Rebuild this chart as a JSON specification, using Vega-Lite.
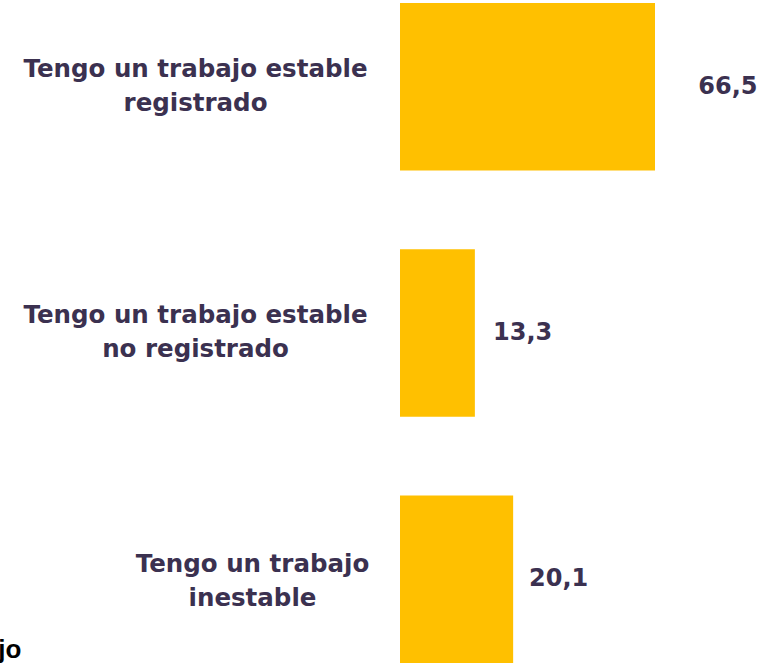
{
  "$schema": "https://vega.github.io/schema/vega-lite/v6.json",
  "autosize": "none",
  "padding": {"left": 400, "top": 3, "right": 108, "bottom": 0},
  "width": 255,
  "height": 660,
  "background": "white",
  "config": {
    "view": {"stroke": null},
    "locale": {"number": {"decimal": ",", "thousands": ".", "grouping": [3], "currency": ["", " €"]}}
  },
  "title": {
    "text": "Trabajo",
    "orient": "bottom",
    "anchor": "start",
    "frame": "group",
    "font": "Liberation Sans",
    "fontSize": 26,
    "fontWeight": "bold",
    "color": "#000000",
    "dx": -471,
    "dy": -30
  },
  "data": {
    "values": [
      {"categoria": "Tengo un trabajo estable registrado", "valor": 66.5},
      {"categoria": "Tengo un trabajo estable no registrado", "valor": 13.3},
      {"categoria": "Tengo un trabajo inestable", "valor": 20.1}
    ]
  },
  "encoding": {
    "y": {
      "field": "categoria",
      "type": "nominal",
      "sort": null,
      "scale": {"paddingInner": 0.32, "paddingOuter": 0},
      "axis": {
        "title": null,
        "domain": false,
        "ticks": false,
        "labelPadding": {"condition": {"test": "datum.value == 'Tengo un trabajo inestable'", "value": 148}, "value": 205},
        "labelOffset": {"condition": {"test": "datum.value == 'Tengo un trabajo inestable'", "value": -14}, "value": -17},
        "labelFont": "DejaVu Sans",
        "labelFontSize": 24.5,
        "labelFontWeight": "bold",
        "labelColor": "#3B3150",
        "labelAlign": "center",
        "labelLineHeight": 34,
        "labelLimit": 500,
        "labelExpr": "datum.value == 'Tengo un trabajo estable registrado' ? ['Tengo un trabajo estable', 'registrado'] : datum.value == 'Tengo un trabajo estable no registrado' ? ['Tengo un trabajo estable', 'no registrado'] : ['Tengo un trabajo', 'inestable']"
      }
    }
  },
  "layer": [
    {
      "mark": {"type": "bar", "color": "#FFC000"},
      "encoding": {
        "x": {
          "field": "valor",
          "type": "quantitative",
          "scale": {"domain": [0, 45.3], "clamp": true, "nice": false},
          "axis": null
        }
      }
    },
    {
      "mark": {
        "type": "text",
        "align": "left",
        "baseline": "middle",
        "font": "DejaVu Sans",
        "fontSize": 24,
        "fontWeight": "bold",
        "color": "#3B3150"
      },
      "encoding": {
        "x": {
          "field": "valor",
          "type": "quantitative",
          "scale": {"type": "pow", "exponent": 0.58, "domain": [1.676, 52.5], "zero": false, "nice": false},
          "axis": null
        },
        "text": {"field": "valor", "type": "quantitative", "format": ".1f"}
      }
    }
  ],
  "resolve": {"scale": {"x": "independent"}}
}
